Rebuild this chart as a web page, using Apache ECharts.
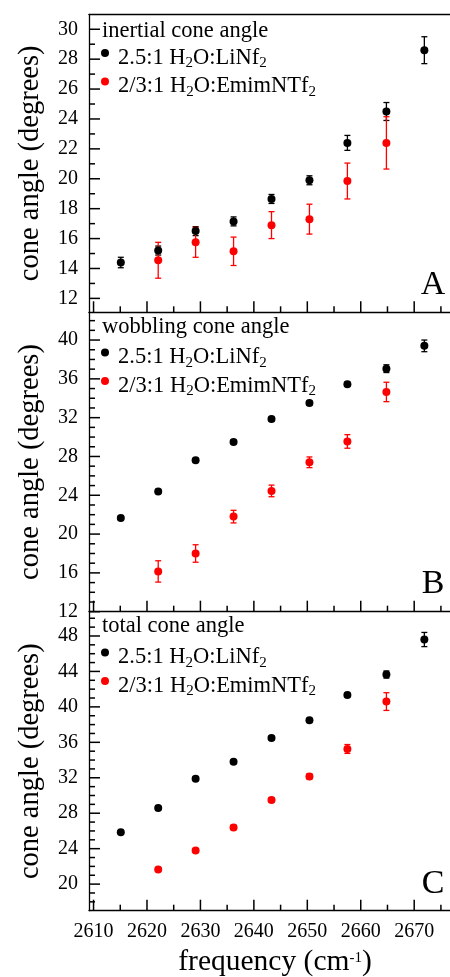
<!DOCTYPE html>
<html>
<head>
<meta charset="utf-8">
<script src="https://cdn.jsdelivr.net/npm/echarts@6/dist/echarts.min.js"></script>
<style>
  html, body { margin: 0; padding: 0; background: #fff; }
  #chart { width: 450px; height: 977px; }
</style>
</head>
<body>
<div id="chart"></div>
<script>
// OD stretch frequencies (cm^-1)
const frequency = [2615.1, 2622.1, 2629.1, 2636.2, 2643.3, 2650.4, 2657.5, 2664.8, 2671.9];

// inertial cone angle (degrees)
const inertialLiNf    = [14.4, 15.2, 16.5, 17.15, 18.65, 19.9, 22.4, 24.5, 28.6];
const inertialLiNfErr = [0.35, 0.3, 0.3, 0.3, 0.3, 0.3, 0.5, 0.6, 0.9];
const inertialEmim    = [null, 14.55, 15.75, 15.15, 16.9, 17.3, 19.85, 22.4, null];
const inertialEmimErr = [null, 1.2, 1.0, 0.95, 0.9, 1.0, 1.2, 1.75, null];

// wobbling cone angle (degrees)
const wobblingLiNf    = [21.65, 24.4, 27.6, 29.5, 31.85, 33.5, 35.45, 37.05, 39.4];
const wobblingLiNfErr = [0.2, 0.2, 0.2, 0.2, 0.2, 0.2, 0.2, 0.4, 0.6];
const wobblingEmim    = [null, 16.15, 18.0, 21.8, 24.45, 27.4, 29.55, 34.65, null];
const wobblingEmimErr = [null, 1.1, 0.9, 0.65, 0.6, 0.55, 0.7, 1.0, null];

// total cone angle (degrees)
const totalLiNf    = [25.85, 28.6, 31.9, 33.8, 36.5, 38.5, 41.35, 43.65, 47.6];
const totalLiNfErr = [0.2, 0.2, 0.2, 0.2, 0.2, 0.2, 0.2, 0.4, 0.8];
const totalEmim    = [null, 21.65, 23.8, 26.4, 29.5, 32.15, 35.25, 40.6, null];
const totalEmimErr = [null, 0.2, 0.2, 0.25, 0.25, 0.3, 0.5, 1.0, null];

// tick values
const xMajorTicks = [2610, 2620, 2630, 2640, 2650, 2660, 2670];
const xMinorTicks = [2615, 2625, 2635, 2645, 2655, 2665, 2675];
const yMajorA = [12, 14, 16, 18, 20, 22, 24, 26, 28, 30];
const yMinorA = [13, 15, 17, 19, 21, 23, 25, 27, 29];
const yMajorB = [12, 16, 20, 24, 28, 32, 36, 40];
const yMinorB = [13, 14, 15, 17, 18, 19, 21, 22, 23, 25, 26, 27, 29, 30, 31, 33, 34, 35, 37, 38, 39, 41, 42];
const yMajorC = [20, 24, 28, 32, 36, 40, 44, 48];
const yMinorC = [18, 19, 21, 22, 23, 25, 26, 27, 29, 30, 31, 33, 34, 35, 37, 38, 39, 41, 42, 43, 45, 46, 47, 49, 50];

const blackName = '2.5:1 H2O:LiNf2';
const redName = '2/3:1 H2O:EmimNTf2';
const richNames = {};
richNames[blackName] = '2.5:1 H{s|2}O:LiNf{s|2}';
richNames[redName] = '2/3:1 H{s|2}O:EmimNTf{s|2}';

const FONT = "'Liberation Serif', 'Times New Roman', Times, serif";
const BLACK = '#000000';
const RED = '#ff0000';

const X_RANGE = [2609.15, 2676.7];
const GRID_LEFT = 89;
const MAJOR_LEN = 11;
const MINOR_LEN = 6;

const panels = [
  { top: 14.3, height: 298, yRange: [11.07, 31], major: yMajorA, minor: yMinorA,
    heading: 'inertial cone angle', headingY: 30.7, letter: 'A', letterY: 284.7, legendTop: 46.5,
    black: inertialLiNf, blackErr: inertialLiNfErr, red: inertialEmim, redErr: inertialEmimErr },
  { top: 312.3, height: 299.4, yRange: [12, 42.86], major: yMajorB, minor: yMinorB,
    heading: 'wobbling cone angle', headingY: 327.4, letter: 'B', letterY: 584.2, legendTop: 346,
    black: wobblingLiNf, blackErr: wobblingLiNfErr, red: wobblingEmim, redErr: wobblingEmimErr },
  { top: 611.7, height: 299, yRange: [17, 50.74], major: yMajorC, minor: yMinorC,
    heading: 'total cone angle', headingY: 625.7, letter: 'C', letterY: 884.4, legendTop: 646,
    black: totalLiNf, blackErr: totalLiNfErr, red: totalEmim, redErr: totalEmimErr }
];

function points(vals) {
  const out = [];
  vals.forEach((v, i) => { if (v != null) out.push([frequency[i], v]); });
  return out;
}
function bars(vals, errs) {
  const out = [];
  vals.forEach((v, i) => { if (v != null) out.push([frequency[i], v - errs[i], v + errs[i]]); });
  return out;
}
function errorBarRenderer(color) {
  return function (params, api) {
    const x = api.value(0);
    const top = api.coord([x, api.value(2)]);
    const bot = api.coord([x, api.value(1)]);
    const w = 3;
    const style = { stroke: color, lineWidth: 1.3 };
    return {
      type: 'group',
      children: [
        { type: 'line', shape: { x1: top[0], y1: top[1], x2: bot[0], y2: bot[1] }, style: style },
        { type: 'line', shape: { x1: top[0] - w, y1: top[1], x2: top[0] + w, y2: top[1] }, style: style },
        { type: 'line', shape: { x1: bot[0] - w, y1: bot[1], x2: bot[0] + w, y2: bot[1] }, style: style }
      ]
    };
  };
}

const lineStyle = { color: BLACK, width: 1.3 };
const grid = [], xAxis = [], yAxis = [], series = [], legend = [], labels = [];

panels.forEach((p, i) => {
  const last = i === panels.length - 1;
  const gi = grid.length;
  grid.push({ left: GRID_LEFT, right: 0, top: p.top, height: p.height, outerBoundsMode: 'none' });

  const xi = xAxis.length;
  xAxis.push({
    type: 'value', gridIndex: gi, position: 'bottom', min: X_RANGE[0], max: X_RANGE[1],
    axisLine: { show: true, onZero: false, lineStyle: lineStyle },
    axisTick: { show: false },
    axisLabel: {
      show: last, customValues: xMajorTicks, margin: 11, color: BLACK, fontFamily: FONT, fontSize: 20,
      formatter: function (v) { return String(Math.round(v)); }
    },
    splitLine: { show: false },
    name: last ? 'frequency (cm{sup|-1})' : '',
    nameLocation: 'middle', nameGap: 37,
    nameTextStyle: {
      color: BLACK, fontFamily: FONT, fontSize: 29.5, padding: [0, 0, 0, 11],
      rich: { sup: { color: BLACK, fontFamily: FONT, fontSize: 15, padding: [0, 0, 9, 0] } }
    }
  });
  if (i === 0) {
    // top frame line of the first panel
    xAxis.push({
      type: 'value', gridIndex: gi, position: 'top', min: X_RANGE[0], max: X_RANGE[1],
      axisLine: { show: true, onZero: false, lineStyle: lineStyle },
      axisTick: { show: false }, axisLabel: { show: false }, splitLine: { show: false }
    });
  }

  const yi = yAxis.length;
  yAxis.push({
    type: 'value', gridIndex: gi, position: 'left', min: p.yRange[0], max: p.yRange[1],
    axisLine: { show: true, onZero: false, lineStyle: lineStyle },
    axisTick: { show: false },
    axisLabel: {
      show: true, customValues: p.major, margin: 11, color: BLACK, fontFamily: FONT, fontSize: 20,
      formatter: function (v) { return String(Math.round(v)); }
    },
    splitLine: { show: false },
    name: 'cone angle (degrees)', nameLocation: 'middle', nameGap: 44,
    nameTextStyle: { color: BLACK, fontFamily: FONT, fontSize: 28.5 }
  });

  series.push({
    type: 'custom', name: 'err-black-' + i, xAxisIndex: xi, yAxisIndex: yi,
    renderItem: errorBarRenderer(BLACK), data: bars(p.black, p.blackErr), z: 2, silent: true
  });
  series.push({
    type: 'custom', name: 'err-red-' + i, xAxisIndex: xi, yAxisIndex: yi,
    renderItem: errorBarRenderer(RED), data: bars(p.red, p.redErr), z: 3, silent: true
  });
  series.push({
    type: 'scatter', name: blackName, xAxisIndex: xi, yAxisIndex: yi,
    data: points(p.black), symbol: 'circle', symbolSize: 8, itemStyle: { color: BLACK, opacity: 1 }, z: 4
  });
  series.push({
    type: 'scatter', name: redName, xAxisIndex: xi, yAxisIndex: yi,
    data: points(p.red), symbol: 'circle', symbolSize: 8, itemStyle: { color: RED, opacity: 1 }, z: 5
  });

  legend.push({
    orient: 'vertical', left: 101, top: p.legendTop, padding: 0,
    itemWidth: 8, itemHeight: 8, itemGap: 3.9, icon: 'circle', selectedMode: false,
    data: [blackName, redName],
    formatter: function (name) { return richNames[name]; },
    textStyle: {
      color: BLACK, fontFamily: FONT, fontSize: 22.5, padding: [10, 0, 0, 4],
      rich: { s: { color: BLACK, fontFamily: FONT, fontSize: 15, padding: [11, 0, 0, 0] } }
    }
  });

  labels.push({
    type: 'text', x: 102, y: p.headingY, silent: true,
    style: { text: p.heading, fill: BLACK, font: '22.5px ' + FONT, align: 'left', verticalAlign: 'middle' }
  });
  labels.push({
    type: 'text', x: 433, y: p.letterY, silent: true,
    style: { text: p.letter, fill: BLACK, font: '34px ' + FONT, align: 'center', verticalAlign: 'middle' }
  });
});

const chart = echarts.init(document.getElementById('chart'), null, { renderer: 'canvas' });
chart.setOption({
  animation: false,
  backgroundColor: '#ffffff',
  grid: grid,
  xAxis: xAxis,
  yAxis: yAxis,
  legend: legend,
  series: series
});

// inward tick marks, placed through each panel's axis scales
const ticks = [];
function tickLine(a, b) {
  return { type: 'line', z: 10, silent: true,
    shape: { x1: a[0], y1: a[1], x2: b[0], y2: b[1] },
    style: { stroke: BLACK, lineWidth: 1.5 } };
}
panels.forEach((p, i) => {
  const finder = { gridIndex: i };
  const toPx = (x, y) => chart.convertToPixel(finder, [x, y]);
  const addX = (v, len) => { const pt = toPx(v, p.yRange[0]); ticks.push(tickLine(pt, [pt[0], pt[1] - len])); };
  const addY = (v, len) => { const pt = toPx(X_RANGE[0], v); ticks.push(tickLine(pt, [pt[0] + len, pt[1]])); };
  xMajorTicks.forEach(v => addX(v, MAJOR_LEN));
  xMinorTicks.filter(v => v < X_RANGE[1]).forEach(v => addX(v, MINOR_LEN));
  p.major.forEach(v => addY(v, MAJOR_LEN));
  p.minor.filter(v => v < p.yRange[1]).forEach(v => addY(v, MINOR_LEN));
});

chart.setOption({ graphic: labels.concat(ticks) });
</script>
</body>
</html>
